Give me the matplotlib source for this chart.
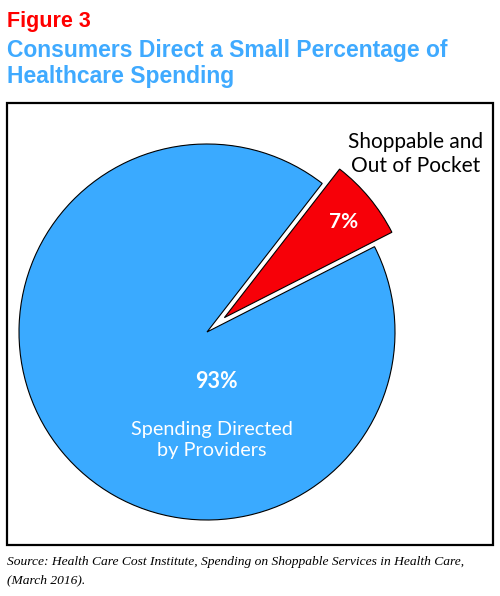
import matplotlib
matplotlib.use("Agg")
import matplotlib.pyplot as plt
from matplotlib.patches import Rectangle

# Data
labels = ["Shoppable and\nOut of Pocket", "Spending Directed\nby Providers"]
values = [7, 93]
pct_labels = ["7%", "93%"]
colors = ["#F70008", "#3AAAFF"]

W, H = 500, 596
fig = plt.figure(figsize=(W / 100, H / 100), dpi=100)

def fx(px):
    return px / W

def fy(py):
    return 1 - py / H

# Title
fig.text(fx(7), fy(27), "Figure 3", color="#FF0000", fontsize=15.5,
         fontweight="bold", family="Liberation Sans", va="baseline", ha="left")
fig.text(fx(7), fy(57), "Consumers Direct a Small Percentage of", color="#3FAAFF",
         fontsize=16.5, fontweight="bold", family="Liberation Sans", va="baseline", ha="left")
fig.text(fx(7), fy(83), "Healthcare Spending", color="#3FAAFF",
         fontsize=16.5, fontweight="bold", family="Liberation Sans", va="baseline", ha="left")

# Box
fig.patches.append(Rectangle((fx(7), fy(545)), fx(493) - fx(7), fy(103) - fy(545),
                             transform=fig.transFigure, fill=False,
                             edgecolor="black", linewidth=1.6))

# Pie axes: center at (207, 332) px, radius 188 px
cx, cy, R, half = 207, 332, 188, 200
ax = fig.add_axes([fx(cx - half), fy(cy + half), 2 * half / W, 2 * half / H])
ax.pie(values, colors=colors, startangle=27, explode=[0.12, 0],
       wedgeprops=dict(edgecolor="black", linewidth=0.8), radius=1)
lim = half / R
ax.set_xlim(-lim, lim)
ax.set_ylim(-lim, lim)
ax.set_aspect("auto")
ax.axis("off")

# Labels
pie_font = "Lato"
fig.text(fx(344), fy(222), pct_labels[0], color="white", fontsize=15,
         fontweight="bold", family=pie_font, ha="center", va="center")
fig.text(fx(416), fy(154), labels[0], color="black", fontsize=15,
         family=pie_font, ha="center", va="center", linespacing=1.3)
fig.text(fx(216), fy(382), pct_labels[1], color="white", fontsize=15.5,
         fontweight="bold", family=pie_font, ha="center", va="center")
fig.text(fx(212), fy(440), labels[1], color="white", fontsize=14.3,
         family=pie_font, ha="center", va="center", linespacing=1.25)

# Source
fig.text(fx(7), fy(565), "Source: Health Care Cost Institute, Spending on Shoppable Services in Health Care,",
         fontsize=9.7, style="italic", family="Liberation Serif", va="baseline", ha="left")
fig.text(fx(7), fy(583), "(March 2016).",
         fontsize=9.7, style="italic", family="Liberation Serif", va="baseline", ha="left")

fig.savefig("out.png", dpi=100)
